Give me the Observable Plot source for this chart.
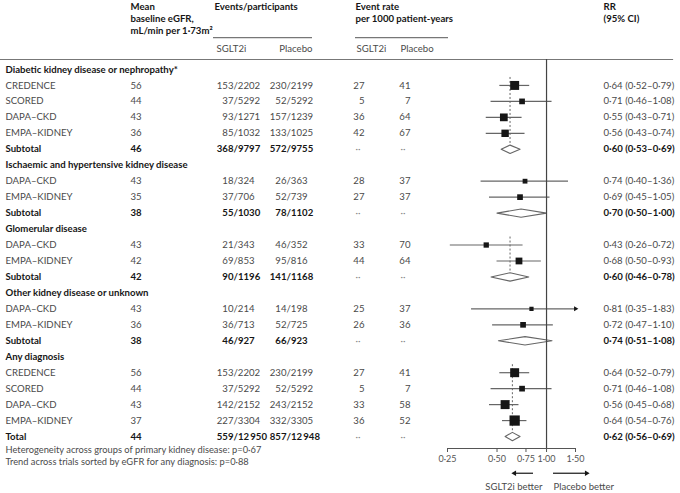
<!DOCTYPE html>
<html><head><meta charset="utf-8">
<script src="https://cdn.jsdelivr.net/npm/d3@7"></script>
<script src="https://cdn.jsdelivr.net/npm/@observablehq/plot@0.6"></script>
<style>
body{margin:0;background:#fff;}
#chart svg{display:block;}
</style></head><body><div id="chart"></div>
<script>
// ---------- data ----------
const groups = ["Diabetic kidney disease or nephropathy*", "Ischaemic and hypertensive kidney disease", "Glomerular disease", "Other kidney disease or unknown", "Any diagnosis"];
const trialGroup = [0,0,0,0,1,1,2,2,3,3,4,4,4,4];
const trialName = ["CREDENCE","SCORED","DAPA–CKD","EMPA–KIDNEY","DAPA–CKD","EMPA–KIDNEY","DAPA–CKD","EMPA–KIDNEY","DAPA–CKD","EMPA–KIDNEY","CREDENCE","SCORED","DAPA–CKD","EMPA–KIDNEY"];
const trialEGFR = [56,44,43,36,43,35,43,42,43,36,56,44,43,37];
const sgltEvents = [153,37,93,85,18,37,21,69,10,36,153,37,142,227];
const sgltN = [2202,5292,1271,1032,324,706,343,853,214,713,2202,5292,2152,3304];
const placeboEvents = [230,52,157,133,26,52,46,95,14,52,230,52,243,332];
const placeboN = [2199,5292,1239,1025,363,739,352,816,198,725,2199,5292,2152,3305];
const sgltRate = [27,5,36,42,28,27,33,44,25,26,27,5,33,36];
const placeboRate = [41,7,64,67,37,37,70,64,37,36,41,7,58,52];
const rr = [0.64,0.71,0.55,0.56,0.74,0.69,0.43,0.68,0.81,0.72,0.64,0.71,0.56,0.64];
const rrLo = [0.52,0.46,0.43,0.43,0.40,0.45,0.26,0.50,0.35,0.47,0.52,0.46,0.45,0.54];
const rrHi = [0.79,1.08,0.71,0.74,1.36,1.05,0.72,0.93,1.83,1.10,0.79,1.08,0.68,0.76];

const subLabel = ["Subtotal","Subtotal","Subtotal","Subtotal","Total"];
const subEGFR = [46,38,42,38,44];
const subSgltEvents = [368,55,90,46,559];
const subSgltN = [9797,1030,1196,927,12950];
const subPlaceboEvents = [572,78,141,66,857];
const subPlaceboN = [9755,1102,1168,923,12948];
const subRR = [0.60,0.70,0.60,0.74,0.62];
const subLo = [0.53,0.50,0.46,0.51,0.56];
const subHi = [0.69,1.00,0.78,1.08,0.69];
const dashedGroups = [0,2,4];

const xTicks = [0.25,0.50,0.75,1.00,1.50];
const footnotes = ["Heterogeneity across groups of primary kidney disease: p=0·67", "Trend across trials sorted by eGFR for any diagnosis: p=0·88"];

// ---------- layout ----------
const W = 680, H = 493;
const xDomain = [0.25, 1.5], xRange = [447, 575];
const frameTop = 59, frameBottom = 448;
const yDomain = [-0.625, 23.75];
const COL = {label:5, egfr:130, slashT:233, slashP:286, rateT:364, rateP:410, dotsT:355, dotsP:400, rr:603};
const FONT = "Lato, 'Noto Sans', sans-serif";
const xs = d3.scaleLog().domain(xDomain).range(xRange);
const at = px => xs.invert(px);

// ---------- build rows ----------
const headerRows = [], trialRows = [], subRows = [], diamondPts = [], dashRows = [];
let idx = 0;
groups.forEach((g, gi) => {
  headerRows.push({label: g, y: idx++});
  const first = idx;
  trialName.forEach((n, t) => {
    if (trialGroup[t] !== gi) return;
    trialRows.push({label: n, y: idx++, egfr: trialEGFR[t], evT: sgltEvents[t], nT: sgltN[t], evP: placeboEvents[t], nP: placeboN[t],
      rateT: sgltRate[t], rateP: placeboRate[t], rr: rr[t], lo: rrLo[t], hi: rrHi[t], events: sgltEvents[t] + placeboEvents[t]});
  });
  const s = {label: subLabel[gi], y: idx++, egfr: subEGFR[gi], evT: subSgltEvents[gi], nT: subSgltN[gi], evP: subPlaceboEvents[gi], nP: subPlaceboN[gi],
    rr: subRR[gi], lo: subLo[gi], hi: subHi[gi]};
  subRows.push(s);
  const h = 0.26;
  [[s.lo, s.y], [s.rr, s.y - h], [s.hi, s.y], [s.rr, s.y + h], [s.lo, s.y]].forEach(([x, y]) => diamondPts.push({k: gi, x, y}));
  if (dashedGroups.includes(gi)) dashRows.push({x: s.rr, y1: first - 0.5, y2: s.y - h});
});

const fmt2 = v => v.toFixed(2).replace(".", "·");
const fmtN = n => n >= 10000 ? d3.format(",")(n).replace(",", "\u2009") : String(n);
const rrText = d => `${fmt2(d.rr)} (${fmt2(d.lo)}–${fmt2(d.hi)})`;

const txt = (data, o) => Plot.text(data, {frameAnchor: "left", lineAnchor: "middle", ...o});
const head = (s, o) => Plot.text([s], {frameAnchor: "top-left", lineAnchor: "middle", text: d => d, ...o});

function cols(data, o, sub) {
  const m = [
    txt(data, {y: "y", text: "label", dx: COL.label, ...o}),
    txt(data, {y: "y", text: d => String(d.egfr), dx: COL.egfr, ...o}),
    txt(data, {y: "y", text: d => fmtN(d.evT), dx: COL.slashT, textAnchor: "end", ...o}),
    txt(data, {y: "y", text: d => "/" + fmtN(d.nT), dx: COL.slashT, ...o}),
    txt(data, {y: "y", text: d => fmtN(d.evP), dx: COL.slashP, textAnchor: "end", ...o}),
    txt(data, {y: "y", text: d => "/" + fmtN(d.nP), dx: COL.slashP, ...o}),
    txt(data, {y: "y", text: rrText, dx: COL.rr, ...o})
  ];
  if (sub) {
    m.push(txt(data, {y: "y", text: () => "··", dx: COL.dotsT, fill: "#888"}));
    m.push(txt(data, {y: "y", text: () => "··", dx: COL.dotsP, fill: "#888"}));
  } else {
    m.push(txt(data, {y: "y", text: d => String(d.rateT), dx: COL.rateT, textAnchor: "end", ...o}));
    m.push(txt(data, {y: "y", text: d => String(d.rateP), dx: COL.rateP, textAnchor: "end", ...o}));
  }
  return m;
}

const clipped = trialRows.filter(d => d.hi > xDomain[1]);
const gray = "#4a4a4a", dark = "#161616";

const chart = Plot.plot({
  width: W, height: H,
  marginTop: frameTop, marginBottom: H - frameBottom, marginLeft: 0, marginRight: 8,
  x: {type: "log", domain: xDomain, range: xRange},
  y: {domain: yDomain, range: [frameTop, frameBottom], axis: null},
  r: {type: "sqrt", domain: [0, 560], range: [1.5, 5.8]},
  style: {fontFamily: FONT, fontSize: "9.6px", color: gray, background: "#fff", overflow: "visible"},
  marks: [
    Plot.frame({anchor: "top", stroke: "#777", strokeWidth: 1.2}),
    // header
    head("Mean", {dx: COL.egfr, dy: 6 - frameTop, fontWeight: "bold", fill: dark}),
    head("baseline eGFR,", {dx: COL.egfr, dy: 18 - frameTop, fontWeight: "bold", fill: dark}),
    head("mL/min per 1·73m²", {dx: COL.egfr, dy: 30 - frameTop, fontWeight: "bold", fill: dark}),
    head("Events/participants", {dx: 214, dy: 6 - frameTop, fontWeight: "bold", fill: dark}),
    head("Event rate", {dx: 355, dy: 6 - frameTop, fontWeight: "bold", fill: dark}),
    head("per 1000 patient-years", {dx: 355, dy: 18 - frameTop, fontWeight: "bold", fill: dark}),
    head("RR", {dx: COL.rr, dy: 6 - frameTop, fontWeight: "bold", fill: dark}),
    head("(95% CI)", {dx: COL.rr, dy: 18 - frameTop, fontWeight: "bold", fill: dark}),
    head("SGLT2i", {dx: 216, dy: 48 - frameTop, fill: gray}),
    head("Placebo", {dx: 312, dy: 48 - frameTop, fill: gray, textAnchor: "end"}),
    head("SGLT2i", {dx: 356, dy: 48 - frameTop, fill: gray}),
    head("Placebo", {dx: 400, dy: 48 - frameTop, fill: gray}),
    Plot.ruleY([{y: -2, a: at(213), b: at(312)}, {y: -2, a: at(355), b: at(448)}], {y: "y", x1: "a", x2: "b", stroke: "#777", strokeWidth: 1.2}),
    // table body
    txt(headerRows, {y: "y", text: "label", dx: COL.label, fontWeight: "bold", fill: dark}),
    ...cols(trialRows, {fill: gray}, false),
    ...cols(subRows, {fill: dark, fontWeight: "bold"}, true),
    // forest
    Plot.ruleX(dashRows, {x: "x", y1: "y1", y2: "y2", stroke: "#666", strokeDasharray: "2,2", strokeWidth: 1}),
    Plot.ruleY(trialRows, {y: "y", x1: "lo", x2: d => Math.min(d.hi, xDomain[1]), stroke: "#666", strokeWidth: 1.2}),
    Plot.dot(clipped, {x: () => xDomain[1], y: "y", symbol: "triangle2", r: 2.4, rotate: 90, fill: dark, stroke: null}),
    Plot.dot(trialRows, {x: "rr", y: "y", symbol: "square", r: "events", fill: dark, stroke: null}),
    Plot.line(diamondPts, {x: "x", y: "y", z: "k", fill: "#fff", stroke: "#666", strokeWidth: 1.1}),
    Plot.ruleX([1], {stroke: "#444", strokeWidth: 1.2}),
    // axis
    Plot.ruleY([{y: yDomain[1]}], {y: "y", x1: () => xDomain[0], x2: () => xDomain[1], stroke: "#555", strokeWidth: 1.2}),
    Plot.axisX({ticks: xTicks, tickFormat: fmt2, tickSize: 4, tickPadding: 3, fontSize: 9, color: "#555"}),
    // direction arrows
    Plot.ruleY([{a: at(514), b: at(533)}, {a: at(553), b: at(585)}], {y: () => 25.3, x1: "a", x2: "b", stroke: dark, strokeWidth: 1.2}),
    Plot.dot([{x: at(514), r: -90}, {x: at(586), r: 90}], {x: "x", y: () => 25.3, rotate: "r", symbol: "triangle2", r: 2.6, fill: dark, stroke: null}),
    Plot.text(["SGLT2i better"], {x: () => at(542), y: () => 26.15, text: d => d, textAnchor: "end", fill: gray, fontSize: 9.5}),
    Plot.text(["Placebo better"], {x: () => at(553), y: () => 26.15, text: d => d, textAnchor: "start", fill: gray, fontSize: 9.5}),
    // footnotes
    Plot.text([footnotes[0]], {frameAnchor: "bottom-left", dx: COL.label, dy: 2, lineAnchor: "middle", text: d => d, fill: gray, fontSize: 9.3}),
    Plot.text([footnotes[1]], {frameAnchor: "bottom-left", dx: COL.label, dy: 14, lineAnchor: "middle", text: d => d, fill: gray, fontSize: 9.3})
  ]
});
document.getElementById("chart").append(chart);
</script></body></html>
